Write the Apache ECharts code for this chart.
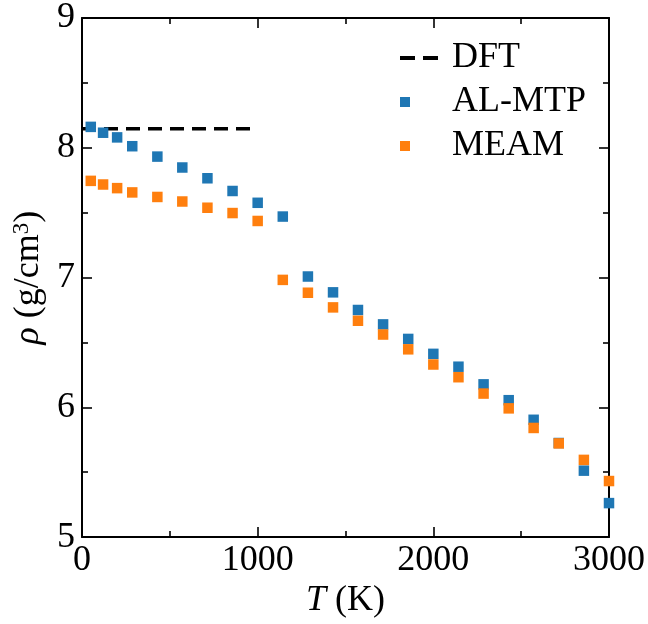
<!DOCTYPE html>
<html>
<head>
<meta charset="utf-8">
<script src="https://cdn.jsdelivr.net/npm/echarts@6/dist/echarts.min.js"></script>
<style>
html,body{margin:0;padding:0;background:#fff;}
#c{width:648px;height:624px;}
</style>
</head>
<body>
<div id="c"></div>
<script>
// Temperatures (K)
var temps = [50,120,200,286,429,571,714,857,1000,1143,1286,1429,1571,1714,1857,2000,2143,2286,2429,2571,2714,2857,3000];
// Densities (g/cm^3)
var alMtp = [8.161,8.116,8.080,8.012,7.932,7.848,7.765,7.667,7.576,7.470,7.008,6.886,6.750,6.639,6.527,6.412,6.313,6.177,6.055,5.904,5.725,5.512,5.262];
var meam  = [7.745,7.717,7.689,7.656,7.621,7.586,7.538,7.497,7.436,6.982,6.883,6.770,6.667,6.561,6.447,6.330,6.232,6.106,5.992,5.841,5.722,5.595,5.432];
var dftT = [0, 1000];
var dftRho = 8.146;
var xTicks = [0, 1000, 2000, 3000];
var yTicks = [5, 6, 7, 8, 9];

function pairs(xs, ys){ return xs.map(function(x,i){ return [x, ys[i]]; }); }

var FONT = 'Liberation Serif';
var FS = 36;
var chart = echarts.init(document.getElementById('c'), null, {renderer:'canvas'});

function axisCommon(){
  return {
    axisLine:{show:true, onZero:false, lineStyle:{color:'#000', width:2}},
    axisTick:{show:true, inside:true, length:10, lineStyle:{color:'#000', width:1.6}},
    minorTick:{show:true, splitNumber:2, length:6, lineStyle:{color:'#000', width:1.6}},
    splitLine:{show:false},
    minorSplitLine:{show:false}
  };
}

var xBottom = Object.assign(axisCommon(), {
  type:'value', min:xTicks[0], max:xTicks[xTicks.length-1], interval:1000, position:'bottom',
  axisLabel:{show:true, color:'#000', fontFamily:FONT, fontSize:FS, margin:5, formatter:function(v){return String(v);}},
  name:'{i|T} (K)', nameLocation:'middle', nameGap:44,
  nameTextStyle:{color:'#000', fontFamily:FONT, fontSize:FS, rich:{i:{fontStyle:'italic', fontFamily:FONT, fontSize:FS, color:'#000'}}}
});
var xTop = Object.assign(axisCommon(), {
  type:'value', min:xTicks[0], max:xTicks[xTicks.length-1], interval:1000, position:'top',
  axisLabel:{show:false}
});
var yLeft = Object.assign(axisCommon(), {
  type:'value', min:yTicks[0], max:yTicks[yTicks.length-1], interval:1, position:'left',
  axisLabel:{show:true, color:'#000', fontFamily:FONT, fontSize:FS, margin:7, formatter:function(v){return String(v);}},
  name:'{i|ρ} (g/cm{s|3})', nameLocation:'middle', nameGap:24, nameRotate:90,
  nameTextStyle:{color:'#000', fontFamily:FONT, fontSize:FS,
    rich:{i:{fontStyle:'italic', fontFamily:FONT, fontSize:FS, color:'#000'},
          s:{fontFamily:FONT, fontSize:23, color:'#000', verticalAlign:'top', lineHeight:23}}}
});
var yRight = Object.assign(axisCommon(), {
  type:'value', min:yTicks[0], max:yTicks[yTicks.length-1], interval:1, position:'right',
  axisLabel:{show:false}
});

chart.setOption({
  animation:false,
  backgroundColor:'#fff',
  grid:{left:82, right:37, top:13, bottom:83, containLabel:false},
  xAxis:[xBottom, xTop],
  yAxis:[yLeft, yRight],
  legend:{
    orient:'vertical', left:395, top:35, itemWidth:38, itemHeight:10, itemGap:8,
    textStyle:{fontFamily:FONT, fontSize:FS, color:'#000', padding:[0,0,0,9]},
    data:[
      {name:'DFT', icon:'path://M0,0h15v4h-15z M23,0h15v4h-15z', itemStyle:{color:'#000', borderWidth:0}},
      {name:'AL-MTP', icon:'square'},
      {name:'MEAM', icon:'square'}
    ]
  },
  series:[
    {name:'DFT', type:'line', data:pairs(dftT,[dftRho,dftRho]), symbol:'none', z:1,
     lineStyle:{color:'#000', width:3.5, type:[14,8]}, itemStyle:{color:'#000'}},
    {name:'AL-MTP', type:'scatter', data:pairs(temps, alMtp), symbol:'square', symbolSize:10.5, z:2,
     itemStyle:{color:'#1f77b4', opacity:1}},
    {name:'MEAM', type:'scatter', data:pairs(temps, meam), symbol:'square', symbolSize:10.5, z:3,
     itemStyle:{color:'#ff7f0e', opacity:1}}
  ]
});
</script>
</body>
</html>
